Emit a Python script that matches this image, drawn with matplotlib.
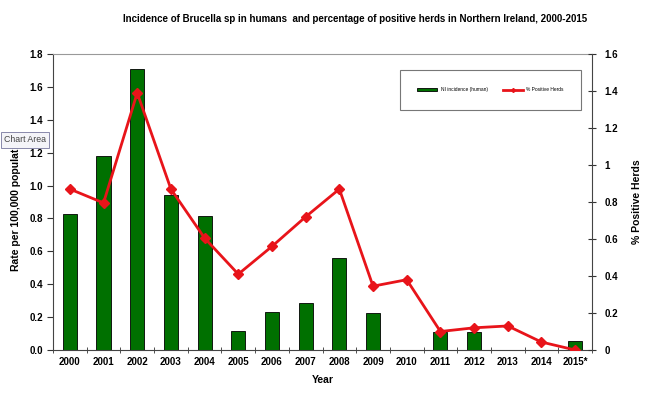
import matplotlib
matplotlib.use("Agg")
import matplotlib.pyplot as plt
import numpy as np

years = ["2000", "2001", "2002", "2003", "2004", "2005", "2006", "2007",
         "2008", "2009", "2010", "2011", "2012", "2013", "2014", "2015*"]
incidence = [0.83, 1.18, 1.71, 0.94, 0.815, 0.115, 0.23, 0.285,
             0.56, 0.225, 0.0, 0.11, 0.11, 0.0, 0.0, 0.055]
pos_herds = [0.87, 0.795, 1.39, 0.87, 0.605, 0.41, 0.56, 0.72,
             0.87, 0.345, 0.38, 0.10, 0.12, 0.13, 0.043, 0.0]

plt.rcParams['font.family'] = ['Liberation Sans', 'DejaVu Sans']

fig = plt.figure(figsize=(6.5, 3.97), dpi=100)
ax = fig.add_axes([53/650, 47/397, 539/650, 296/397])
x = np.arange(len(years))

ax.bar(x, incidence, width=0.42, color='#007000', edgecolor='black',
       linewidth=0.6, label='NI incidence (human)', zorder=2)
ax.set_xlim(-0.5, len(years) - 0.5)
ax.set_ylim(0, 1.8)
ax.set_yticks(np.arange(0, 1.81, 0.2))
ax.set_yticklabels(["%.1f" % v for v in np.arange(0, 1.81, 0.2)],
                   fontsize=7, fontweight='bold')
ax.set_xticks(x)
ax.set_xticklabels(years, fontsize=7, fontweight='bold')
ax.set_xticks(np.arange(-0.5, len(years), 1), minor=True)
ax.tick_params(axis='x', which='major', length=0, pad=5)
ax.tick_params(axis='x', which='minor', length=4, direction='inout', color='#333333')
ax.tick_params(axis='y', length=4, direction='out', color='#333333', pad=3)
for s in ['left', 'bottom']:
    ax.spines[s].set_color('#444444')
ax.spines['top'].set_color('#999999')
ax.spines['right'].set_visible(False)
ax.set_xlabel("Year", fontsize=7.5, fontweight='bold', labelpad=6)
ax.set_ylabel("Rate per 100,000 population", fontsize=7.5, fontweight='bold', labelpad=6)

ax2 = ax.twinx()
ax2.plot(x, pos_herds, color='#e8141a', linewidth=2, marker='D', markersize=5,
         label='% Positive Herds', zorder=3)
ax2.set_ylim(0, 1.6)
r_ticks = np.arange(0, 1.61, 0.2)
ax2.set_yticks(r_ticks)
ax2.set_yticklabels(["%g" % round(v, 1) for v in r_ticks], fontsize=7, fontweight='bold')
ax2.tick_params(axis='y', length=6, direction='inout', color='#333333', pad=6)
ax2.spines['right'].set_color('#444444')
for s in ['left', 'top', 'bottom']:
    ax2.spines[s].set_visible(False)
ax2.set_ylabel("% Positive Herds", fontsize=7.5, fontweight='bold', labelpad=10)

h1, l1 = ax.get_legend_handles_labels()
h2, l2 = ax2.get_legend_handles_labels()
leg = ax2.legend(h1 + h2, l1 + l2, loc='upper right', bbox_to_anchor=(0.985, 0.955),
                 ncol=2, fontsize=3.5, frameon=True, fancybox=False,
                 borderpad=3.6, handlelength=4, columnspacing=3.2, markerscale=0.4)
leg.get_frame().set_edgecolor('#555555')
leg.get_frame().set_linewidth(0.8)
leg.set_zorder(5)

fig.suptitle("Incidence of Brucella sp in humans  and percentage of positive herds in Northern Ireland, 2000-2015",
             x=0.546, y=0.965, fontsize=7, fontweight='bold')

fig.text(4/650, 1 - 140/397, "Chart Area", fontsize=6.3, color='#444444', va='center',
         bbox=dict(boxstyle='square,pad=0.35', facecolor='#f4f4f8', edgecolor='#8888aa', linewidth=0.7),
         zorder=10)

fig.savefig("out.png", dpi=100)
